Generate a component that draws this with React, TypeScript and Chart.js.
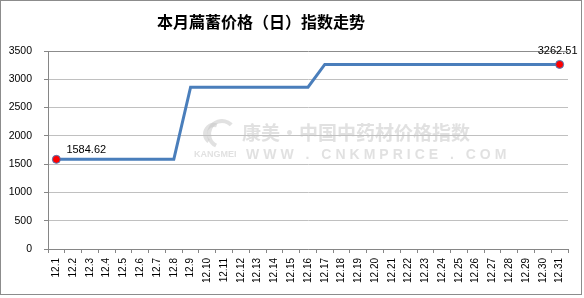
import { useEffect, useRef } from "react";
import { Chart, registerables } from "chart.js";

Chart.register(...registerables);

const chartTitle = "本月萹蓄价格（日）指数走势";
const days = [
  "12.1", "12.2", "12.3", "12.4", "12.5", "12.6", "12.7", "12.8", "12.9", "12.10",
  "12.11", "12.12", "12.13", "12.14", "12.15", "12.16", "12.17", "12.18", "12.19", "12.20",
  "12.21", "12.22", "12.23", "12.24", "12.25", "12.26", "12.27", "12.28", "12.29", "12.30",
  "12.31",
];
const priceIndex = [
  1584.62, 1584.62, 1584.62, 1584.62, 1584.62, 1584.62, 1584.62, 1584.62,
  2860, 2860, 2860, 2860, 2860, 2860, 2860, 2860,
  3262.51, 3262.51, 3262.51, 3262.51, 3262.51, 3262.51, 3262.51, 3262.51,
  3262.51, 3262.51, 3262.51, 3262.51, 3262.51, 3262.51, 3262.51,
];
const yMin = 0;
const yMax = 3500;
const yStep = 500;
const labelledPoints = [0, days.length - 1];
const watermarkCn = "康美·中国中药材价格指数";
const watermarkBrand = "KANGMEI";
const watermarkUrl = "WWW . CNKMPRICE . COM";

const framePlugin = {
  id: "frame",
  beforeDraw(chart: any) {
    const { ctx, width, height } = chart;
    ctx.save();
    ctx.fillStyle = "#ffffff";
    ctx.fillRect(0, 0, width, height);

    // faint watermark behind the plot
    ctx.fillStyle = "rgba(200,200,200,0.55)";
    ctx.textBaseline = "middle";
    ctx.textAlign = "left";
    ctx.font = "bold 19px 'Noto Sans CJK SC'";
    ctx.fillText(watermarkCn, 242, 133);
    ctx.font = "bold 9px 'Liberation Sans'";
    ctx.fillText(watermarkBrand, 194, 155);
    ctx.font = "bold 14px 'Liberation Sans'";
    (ctx as any).letterSpacing = "4px";
    ctx.fillText(watermarkUrl, 246, 155);
    (ctx as any).letterSpacing = "0px";
    // swoosh logo
    ctx.strokeStyle = "rgba(200,200,200,0.55)";
    ctx.lineWidth = 4;
    ctx.beginPath();
    ctx.arc(222, 134, 13, Math.PI * 0.65, Math.PI * 1.75);
    ctx.stroke();
    ctx.beginPath();
    ctx.arc(214, 134, 9, Math.PI * 0.7, Math.PI * 1.6);
    ctx.stroke();

    // title
    ctx.fillStyle = "#000000";
    ctx.textAlign = "center";
    ctx.font = "bold 16px 'Noto Sans CJK SC'";
    ctx.fillText(chartTitle, 261, 22);

    // outer frame
    ctx.strokeStyle = "#8c8c8c";
    ctx.lineWidth = 1;
    ctx.strokeRect(0.5, 0.5, 581, 294);
    ctx.restore();
  },
  afterDatasetsDraw(chart: any) {
    const { ctx } = chart;
    const meta = chart.getDatasetMeta(0);
    ctx.save();
    ctx.fillStyle = "#000000";
    ctx.font = "11px 'Liberation Sans'";
    ctx.textBaseline = "middle";
    labelledPoints.forEach((i, k) => {
      const pt = meta.data[i];
      const text = priceIndex[i].toFixed(2);
      if (k === 0) {
        ctx.textAlign = "left";
        ctx.fillText(text, pt.x + 10, pt.y - 9);
      } else {
        ctx.textAlign = "center";
        ctx.fillText(text, pt.x - 2, pt.y - 13);
      }
    });
    ctx.restore();
  },
};

export default function App() {
  const canvasRef = useRef<HTMLCanvasElement | null>(null);

  useEffect(() => {
    document.body.style.margin = "0";
    const canvas = canvasRef.current;
    if (!canvas) return;
    const radii = priceIndex.map((_, i) => (labelledPoints.includes(i) ? 4 : 0));
    const chart = new Chart(canvas, {
      type: "line",
      data: {
        labels: days,
        datasets: [
          {
            data: priceIndex,
            borderColor: "#4a7ebb",
            borderWidth: 3,
            tension: 0,
            pointRadius: radii,
            pointHoverRadius: radii,
            pointBackgroundColor: "#ff0000",
            pointBorderColor: "#4a7ebb",
            pointBorderWidth: 1,
          },
        ],
      },
      options: {
        animation: false,
        responsive: false,
        maintainAspectRatio: false,
        events: [],
        layout: { padding: { top: 51, right: 16, left: 0, bottom: 0 } },
        plugins: {
          legend: { display: false },
          title: { display: false },
          tooltip: { enabled: false },
        },
        scales: {
          x: {
            type: "category",
            offset: true,
            afterFit(scale: any) {
              scale.height = 49;
            },
            grid: {
              offset: true,
              drawOnChartArea: false,
              drawTicks: true,
              tickLength: 4,
              color: "#868686",
            },
            border: { color: "#868686", width: 1 },
            ticks: {
              autoSkip: false,
              maxRotation: 90,
              minRotation: 90,
              padding: 5,
              color: "#000000",
              font: { family: "'Liberation Sans'", size: 10 },
            },
          },
          y: {
            min: yMin,
            max: yMax,
            afterFit(scale: any) {
              scale.width = 48;
            },
            grid: {
              color: (c: any) => (c.tick && c.tick.value === yMax ? "#8c8c8c" : "#c0c0c0"),
              lineWidth: 1,
              tickLength: 4,
              tickColor: "#868686",
            },
            border: { color: "#868686", width: 1 },
            ticks: {
              stepSize: yStep,
              padding: 12,
              color: "#000000",
              font: { family: "'Liberation Sans'", size: 10.5 },
              callback: (v: any) => String(v),
            },
          },
        },
      },
      plugins: [framePlugin],
    });
    return () => chart.destroy();
  }, []);

  return (
    <div style={{ position: "absolute", left: 0, top: 0, width: 584, height: 298 }}>
      <canvas ref={canvasRef} width={584} height={298} style={{ width: 584, height: 298 }} />
    </div>
  );
}
